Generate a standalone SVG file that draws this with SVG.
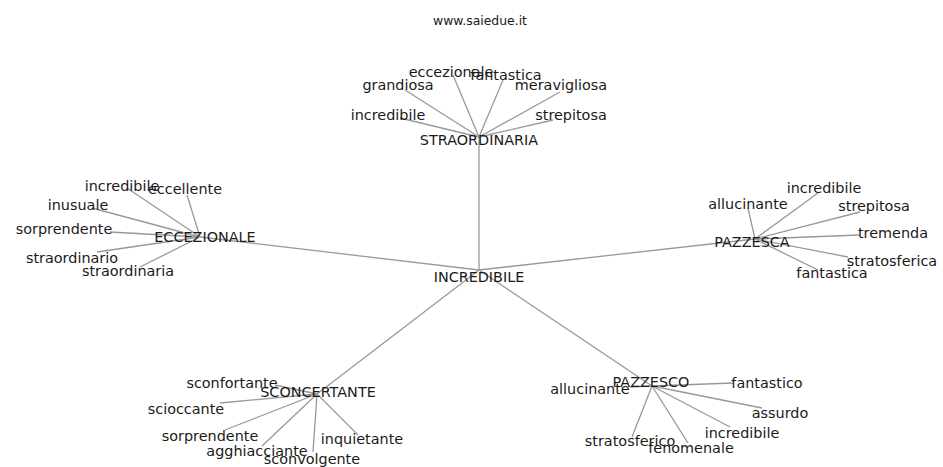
<svg xmlns="http://www.w3.org/2000/svg" width="943" height="467" viewBox="0 0 943 467">
<style>
text{font-family:"DejaVu Sans","Liberation Sans",sans-serif;font-size:14.4px;fill:#1a1a1a;text-anchor:middle}
.wm{font-size:12.4px}
#edges line{stroke:#999;stroke-width:1.3}
</style>
<rect width="943" height="467" fill="#fff"/>
<text class="wm" x="480" y="25">www.saiedue.it</text>
<g id="edges">
<line x1="479" y1="270" x2="479" y2="137"/>
<line x1="479" y1="270" x2="200" y2="237"/>
<line x1="479" y1="270" x2="755" y2="239"/>
<line x1="479" y1="270" x2="317" y2="394"/>
<line x1="479" y1="270" x2="652" y2="386"/>
<line x1="479" y1="137" x2="453" y2="75"/>
<line x1="479" y1="137" x2="503" y2="80"/>
<line x1="479" y1="137" x2="405" y2="90"/>
<line x1="479" y1="137" x2="560" y2="92"/>
<line x1="479" y1="137" x2="400" y2="118"/>
<line x1="479" y1="137" x2="553" y2="120"/>
<line x1="200" y1="237" x2="127" y2="188"/>
<line x1="200" y1="237" x2="187" y2="195"/>
<line x1="200" y1="237" x2="92" y2="208"/>
<line x1="200" y1="237" x2="110" y2="232"/>
<line x1="200" y1="237" x2="97" y2="252"/>
<line x1="200" y1="237" x2="140" y2="267"/>
<line x1="755" y1="239" x2="748" y2="208"/>
<line x1="755" y1="239" x2="818" y2="193"/>
<line x1="755" y1="239" x2="860" y2="212"/>
<line x1="755" y1="239" x2="860" y2="235"/>
<line x1="755" y1="239" x2="848" y2="257"/>
<line x1="755" y1="239" x2="818" y2="270"/>
<line x1="317" y1="394" x2="275" y2="385"/>
<line x1="317" y1="394" x2="220" y2="403"/>
<line x1="317" y1="394" x2="225" y2="430"/>
<line x1="317" y1="394" x2="262" y2="446"/>
<line x1="317" y1="394" x2="313" y2="452"/>
<line x1="317" y1="394" x2="358" y2="435"/>
<line x1="652" y1="386" x2="630" y2="387"/>
<line x1="652" y1="386" x2="733" y2="383"/>
<line x1="652" y1="386" x2="762" y2="408"/>
<line x1="652" y1="386" x2="730" y2="427"/>
<line x1="652" y1="386" x2="632" y2="437"/>
<line x1="652" y1="386" x2="688" y2="443"/>
</g>
<g id="n-incredibile"><text x="479" y="282">INCREDIBILE</text></g>
<g id="n-straordinaria"><text x="479" y="145">STRAORDINARIA</text></g>
<g id="n-s-eccezionale"><text x="451" y="77">eccezionale</text></g>
<g id="n-s-fantastica"><text x="506" y="80">fantastica</text></g>
<g id="n-s-grandiosa"><text x="398" y="90">grandiosa</text></g>
<g id="n-s-meravigliosa"><text x="561" y="90">meravigliosa</text></g>
<g id="n-s-incredibile"><text x="388" y="120">incredibile</text></g>
<g id="n-s-strepitosa"><text x="571" y="120">strepitosa</text></g>
<g id="n-eccezionale"><text x="205" y="242">ECCEZIONALE</text></g>
<g id="n-e-incredibile"><text x="122" y="191">incredibile</text></g>
<g id="n-e-eccellente"><text x="185" y="194">eccellente</text></g>
<g id="n-e-inusuale"><text x="78" y="210">inusuale</text></g>
<g id="n-e-sorprendente"><text x="64" y="234">sorprendente</text></g>
<g id="n-e-straordinario"><text x="72" y="263">straordinario</text></g>
<g id="n-e-straordinaria"><text x="128" y="276">straordinaria</text></g>
<g id="n-pazzesca"><text x="752" y="247">PAZZESCA</text></g>
<g id="n-pa-allucinante"><text x="748" y="209">allucinante</text></g>
<g id="n-pa-incredibile"><text x="824" y="193">incredibile</text></g>
<g id="n-pa-strepitosa"><text x="874" y="211">strepitosa</text></g>
<g id="n-pa-tremenda"><text x="893" y="238">tremenda</text></g>
<g id="n-pa-stratosferica"><text x="892" y="266">stratosferica</text></g>
<g id="n-pa-fantastica"><text x="832" y="278">fantastica</text></g>
<g id="n-sconcertante"><text x="318" y="397">SCONCERTANTE</text></g>
<g id="n-sc-sconfortante"><text x="232" y="388">sconfortante</text></g>
<g id="n-sc-scioccante"><text x="186" y="414">scioccante</text></g>
<g id="n-sc-sorprendente"><text x="210" y="441">sorprendente</text></g>
<g id="n-sc-agghiacciante"><text x="257" y="456">agghiacciante</text></g>
<g id="n-sc-sconvolgente"><text x="312" y="464">sconvolgente</text></g>
<g id="n-sc-inquietante"><text x="362" y="444">inquietante</text></g>
<g id="n-pazzesco"><text x="651" y="387">PAZZESCO</text></g>
<g id="n-po-allucinante"><text x="590" y="394">allucinante</text></g>
<g id="n-po-fantastico"><text x="767" y="388">fantastico</text></g>
<g id="n-po-assurdo"><text x="780" y="418">assurdo</text></g>
<g id="n-po-incredibile"><text x="742" y="438">incredibile</text></g>
<g id="n-po-stratosferico"><text x="630" y="446">stratosferico</text></g>
<g id="n-po-fenomenale"><text x="691" y="453">fenomenale</text></g>
</svg>
